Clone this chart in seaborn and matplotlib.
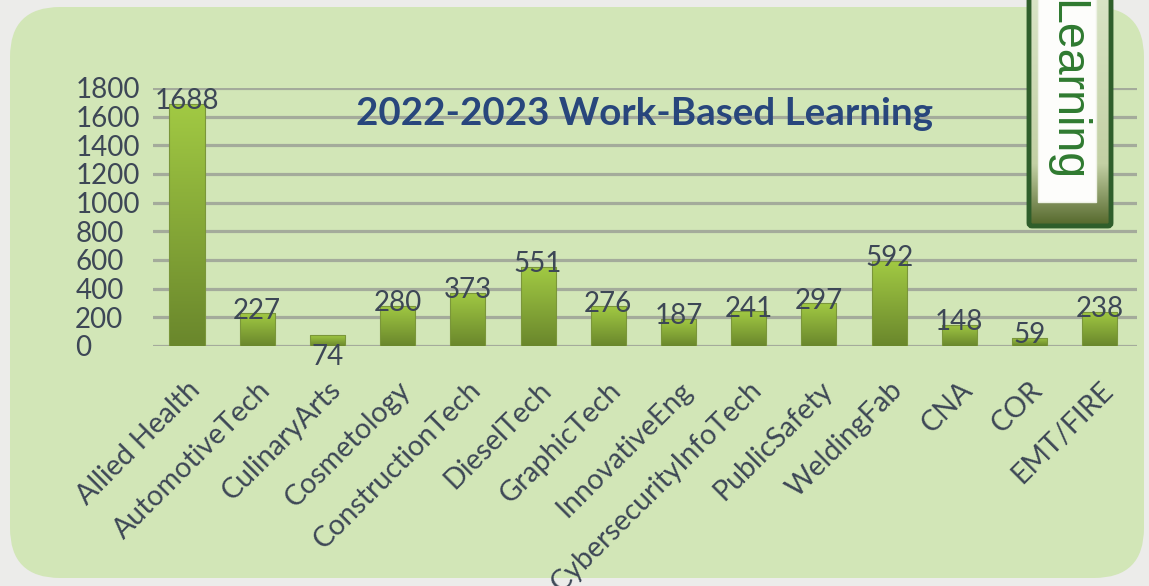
import numpy as np
import matplotlib
matplotlib.use("Agg")
import matplotlib.pyplot as plt
from matplotlib.patches import FancyBboxPatch, Rectangle
import seaborn as sns

# Work-based learning participation by program, 2022-2023
programs = ["Allied Health", "AutomotiveTech", "CulinaryArts", "Cosmetology",
            "ConstructionTech", "DieselTech", "GraphicTech", "InnovativeEng",
            "CybersecurityInfoTech", "PublicSafety", "WeldingFab", "CNA", "COR",
            "EMT/FIRE"]
participants = [1688, 227, 74, 280, 373, 551, 276, 187, 241, 297, 592, 148, 59, 238]
y_ticks = [0, 200, 400, 600, 800, 1000, 1200, 1400, 1600, 1800]
title_text = "2022-2023 Work-Based Learning"
tag_text = "Learning"
labels_below_axis = {"CulinaryArts"}

sns.set_style("white")
plt.rcParams["font.family"] = ["Lato", "DejaVu Sans"]

W, H = 1149, 586
fig = plt.figure(figsize=(W / 100, H / 100), dpi=100)
fig.patch.set_facecolor("#ececea")

# pale green rounded card behind the chart
bg = fig.add_axes([0, 0, 1, 1], zorder=-2)
bg.set_xlim(0, W)
bg.set_ylim(H, 0)
bg.axis("off")
card = FancyBboxPatch((10, 7), 1134, 571,
                      boxstyle="round,pad=0,rounding_size=50",
                      facecolor="#d2e6b7", edgecolor="none")
bg.add_patch(card)

# chart area
ax = fig.add_axes([153 / W, 1 - 346 / H, (1137 - 153) / W, (346 - 88) / H])
ax.set_facecolor("none")
sns.barplot(x=programs, y=participants, ax=ax, width=0.5,
            color="#8aad38", edgecolor="#7a963a", linewidth=0.8, zorder=3)

# vertical light-to-dark gradient inside every bar
top_c = np.array(matplotlib.colors.to_rgb("#a1c943"))
bot_c = np.array(matplotlib.colors.to_rgb("#6a872c"))
ramp = np.linspace(0, 1, 64)[:, None, None]
grad = top_c * (1 - ramp) + bot_c * ramp
for p in ax.patches:
    x0, w, h = p.get_x(), p.get_width(), p.get_height()
    im = ax.imshow(grad, extent=[x0, x0 + w, 0, h], origin="upper",
                   aspect="auto", zorder=3.5, interpolation="bilinear")
    im.set_clip_path(p)
    p.set_facecolor("none")
    p.set_zorder(4)

ax.set_xlim(-0.484, 13.53)
ax.set_ylim(0, 1800)
ax.set_yticks(y_ticks)
ax.set_yticklabels([str(v) for v in y_ticks])
ax.grid(axis="y", color="#a4ab9b", linewidth=2.3, zorder=1)
ax.grid(axis="x", visible=False)
ax.set_axisbelow(True)
for s in ax.spines.values():
    s.set_visible(False)

text_color = "#3d4756"
ax.tick_params(axis="y", length=0, pad=56, labelsize=20, labelcolor=text_color)
for lab in ax.get_yticklabels():
    lab.set_horizontalalignment("left")
ax.tick_params(axis="x", length=0, pad=22, labelsize=20.5, labelcolor=text_color)
for lab in ax.get_xticklabels():
    lab.set_rotation(45)
    lab.set_horizontalalignment("right")
    lab.set_verticalalignment("top")
    lab.set_rotation_mode("anchor")

# value labels
for i, (name, v) in enumerate(zip(programs, participants)):
    if name in labels_below_axis:
        ax.annotate(str(v), (i, 0), xytext=(0, -8), textcoords="offset points",
                    ha="center", va="center", fontsize=20, color=text_color,
                    zorder=6)
    else:
        ax.annotate(str(v), (i, v), xytext=(0, 2), textcoords="offset points",
                    ha="center", va="center", fontsize=20, color=text_color,
                    zorder=6)

ax.set_xlabel("")
ax.set_ylabel("")

fig.text(645 / W, 1 - 114 / H, title_text, ha="center", va="center",
         fontsize=27.7, fontweight="bold", color="#28467c")

# hanging "Learning" tag in the top-right corner
fg = fig.add_axes([0, 0, 1, 1], zorder=5)
fg.set_xlim(0, W)
fg.set_ylim(H, 0)
fg.axis("off")
fg.patch.set_alpha(0)
outer = FancyBboxPatch((1029, -20), 82, 246,
                       boxstyle="round,pad=0,rounding_size=3",
                       facecolor="none", edgecolor="#2f5e2b", linewidth=3.5,
                       zorder=3)
fg.add_patch(outer)
tag_top = np.array(matplotlib.colors.to_rgb("#dbe6c9"))
tag_mid = np.array(matplotlib.colors.to_rgb("#c3d0a4"))
tag_bot = np.array(matplotlib.colors.to_rgb("#55682c"))
t = np.linspace(0, 1, 128)[:, None, None]
tag_grad = np.where(t < 0.75, tag_top * (1 - t / 0.75) + tag_mid * (t / 0.75),
                    tag_mid * (1 - (t - 0.75) / 0.25) + tag_bot * ((t - 0.75) / 0.25))
tim = fg.imshow(tag_grad, extent=[1029, 1111, 226, -20], aspect="auto",
                zorder=1, interpolation="bilinear")
tim.set_clip_path(outer)
inner = Rectangle((1038, -10), 58, 212, facecolor="#fdfdfb",
                  edgecolor="#eef2e6", linewidth=1, zorder=2)
fg.add_patch(inner)
fg.text(1066, 0, tag_text, rotation=-90, ha="center", va="top",
        fontsize=33.5, color="#2f7a30", fontweight="medium",
        family=["Liberation Sans", "DejaVu Sans"], zorder=4)

fig.savefig("out.png", dpi=100, facecolor=fig.get_facecolor())
